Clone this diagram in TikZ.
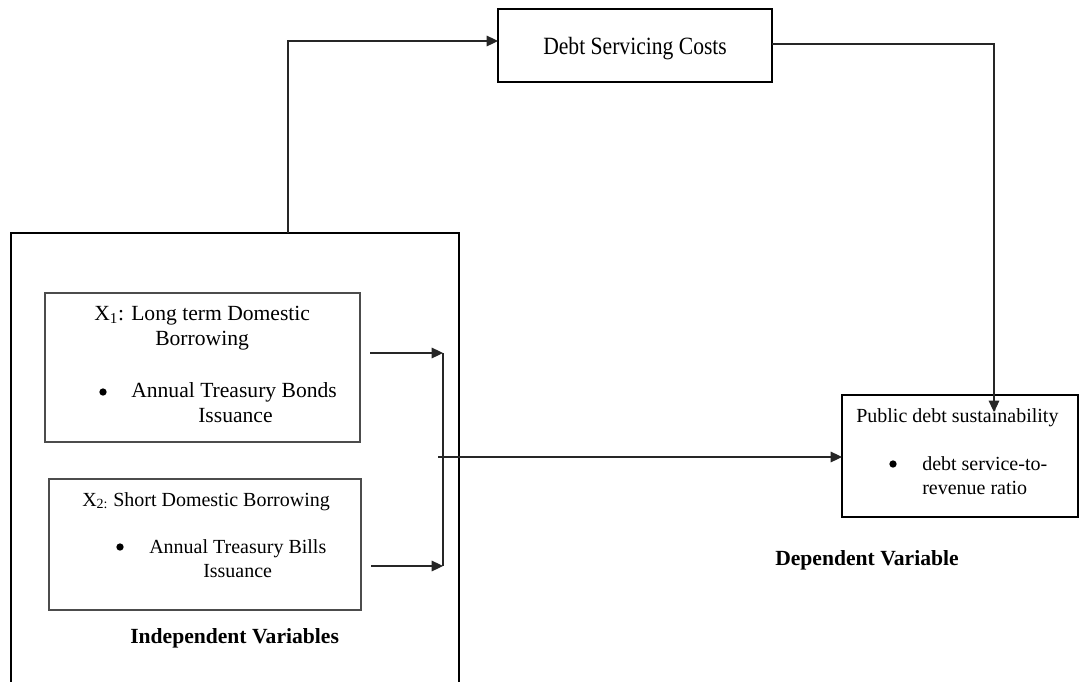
\documentclass[tikz,border=0pt]{standalone}
\usepackage{fontspec}
\setmainfont{Liberation Serif}
\usetikzlibrary{arrows.meta}
\begin{document}
\begin{tikzpicture}[x=0.75pt,y=-0.75pt,
  frame/.style={draw=black, line width=1.3pt, inner sep=0pt, outer sep=0pt},
  thinbox/.style={draw=black!70, line width=0.8pt, inner sep=0pt, outer sep=0pt},
  conn/.style={draw=black!85, line width=0.8pt},
  arr/.style={conn, -{Triangle[length=8.5pt,width=8pt]}},
  lbl/.style={inner sep=0pt, anchor=base west, font=\fontsize{15}{18}\selectfont},
  lblbig/.style={inner sep=0pt, anchor=base west, font=\fontsize{16.2}{19}\selectfont},
  head/.style={inner sep=0pt, anchor=base west, font=\fontsize{16.2}{19}\selectfont\bfseries},
  dot/.style={circle, fill=black, draw=none, inner sep=0pt, minimum size=5.5pt}
]
\useasboundingbox (0,0) rectangle (1079,682);

% boxes
\node[frame, minimum width=448*0.75pt, minimum height=480*0.75pt, anchor=north west] (indep) at (11,233) {};
\node[thinbox, minimum width=315*0.75pt, minimum height=149*0.75pt] (x1) at (202.5,367.5) {};
\node[thinbox, minimum width=312*0.75pt, minimum height=131*0.75pt] (x2) at (205,544.5) {};
\node[frame, minimum width=274*0.75pt, minimum height=73*0.75pt] (dsc) at (635,45.5) {};
\node[frame, minimum width=236*0.75pt, minimum height=122*0.75pt] (pub) at (960,456) {};

% texts
\node[lblbig] (dsct) at (543,54) {\scalebox{1.0}[1.15]{Debt Servicing Costs}};

\node[lblbig] (x1a) at (94,320) {X\textsubscript{1}: Long term Domestic};
\node[lblbig] (x1b) at (155,345) {Borrowing};
\node[dot] (x1c) at (103,392) {};
\node[lblbig] (x1d) at (131,397) {Annual Treasury Bonds};
\node[lblbig] (x1e) at (198,422) {Issuance};

\node[lbl] (x2a) at (82,506) {X\textsubscript{2:} Short Domestic Borrowing};
\node[dot] (x2c) at (120,547) {};
\node[lbl] (x2d) at (149,553) {Annual Treasury Bills};
\node[lbl] (x2e) at (203,577) {Issuance};

\node[head] (indt) at (130,643) {Independent Variables};

\node[lbl] (puba) at (856,422) {Public debt sustainability};
\node[dot] (pubb) at (893,464) {};
\node[lbl] (pubc) at (922,470) {debt service-to-};
\node[lbl] (pubd) at (922,494) {revenue ratio};

\node[head] (dept) at (775,565) {Dependent Variable};

% junction coordinates
\coordinate (j1) at (443,353);
\coordinate (j2) at (443,566);
\coordinate (jm) at (438,457);
\coordinate (up) at (288,41);
\coordinate (pubIn) at (994,412);

% connectors
\draw[arr] (indep.north -| up) -- (up) -- (dsc.west |- up);
\draw[arr] (dsc.east |- 0,44) -| (pubIn);
\draw[arr] ([xshift=7.5pt]x1.east |- j1) -- (j1);
\draw[arr] ([xshift=7.5pt]x2.east |- j2) -- (j2);
\draw[conn] (j1) -- (j2);
\draw[arr] (jm) -- (pub.west |- jm);
\end{tikzpicture}
\end{document}
